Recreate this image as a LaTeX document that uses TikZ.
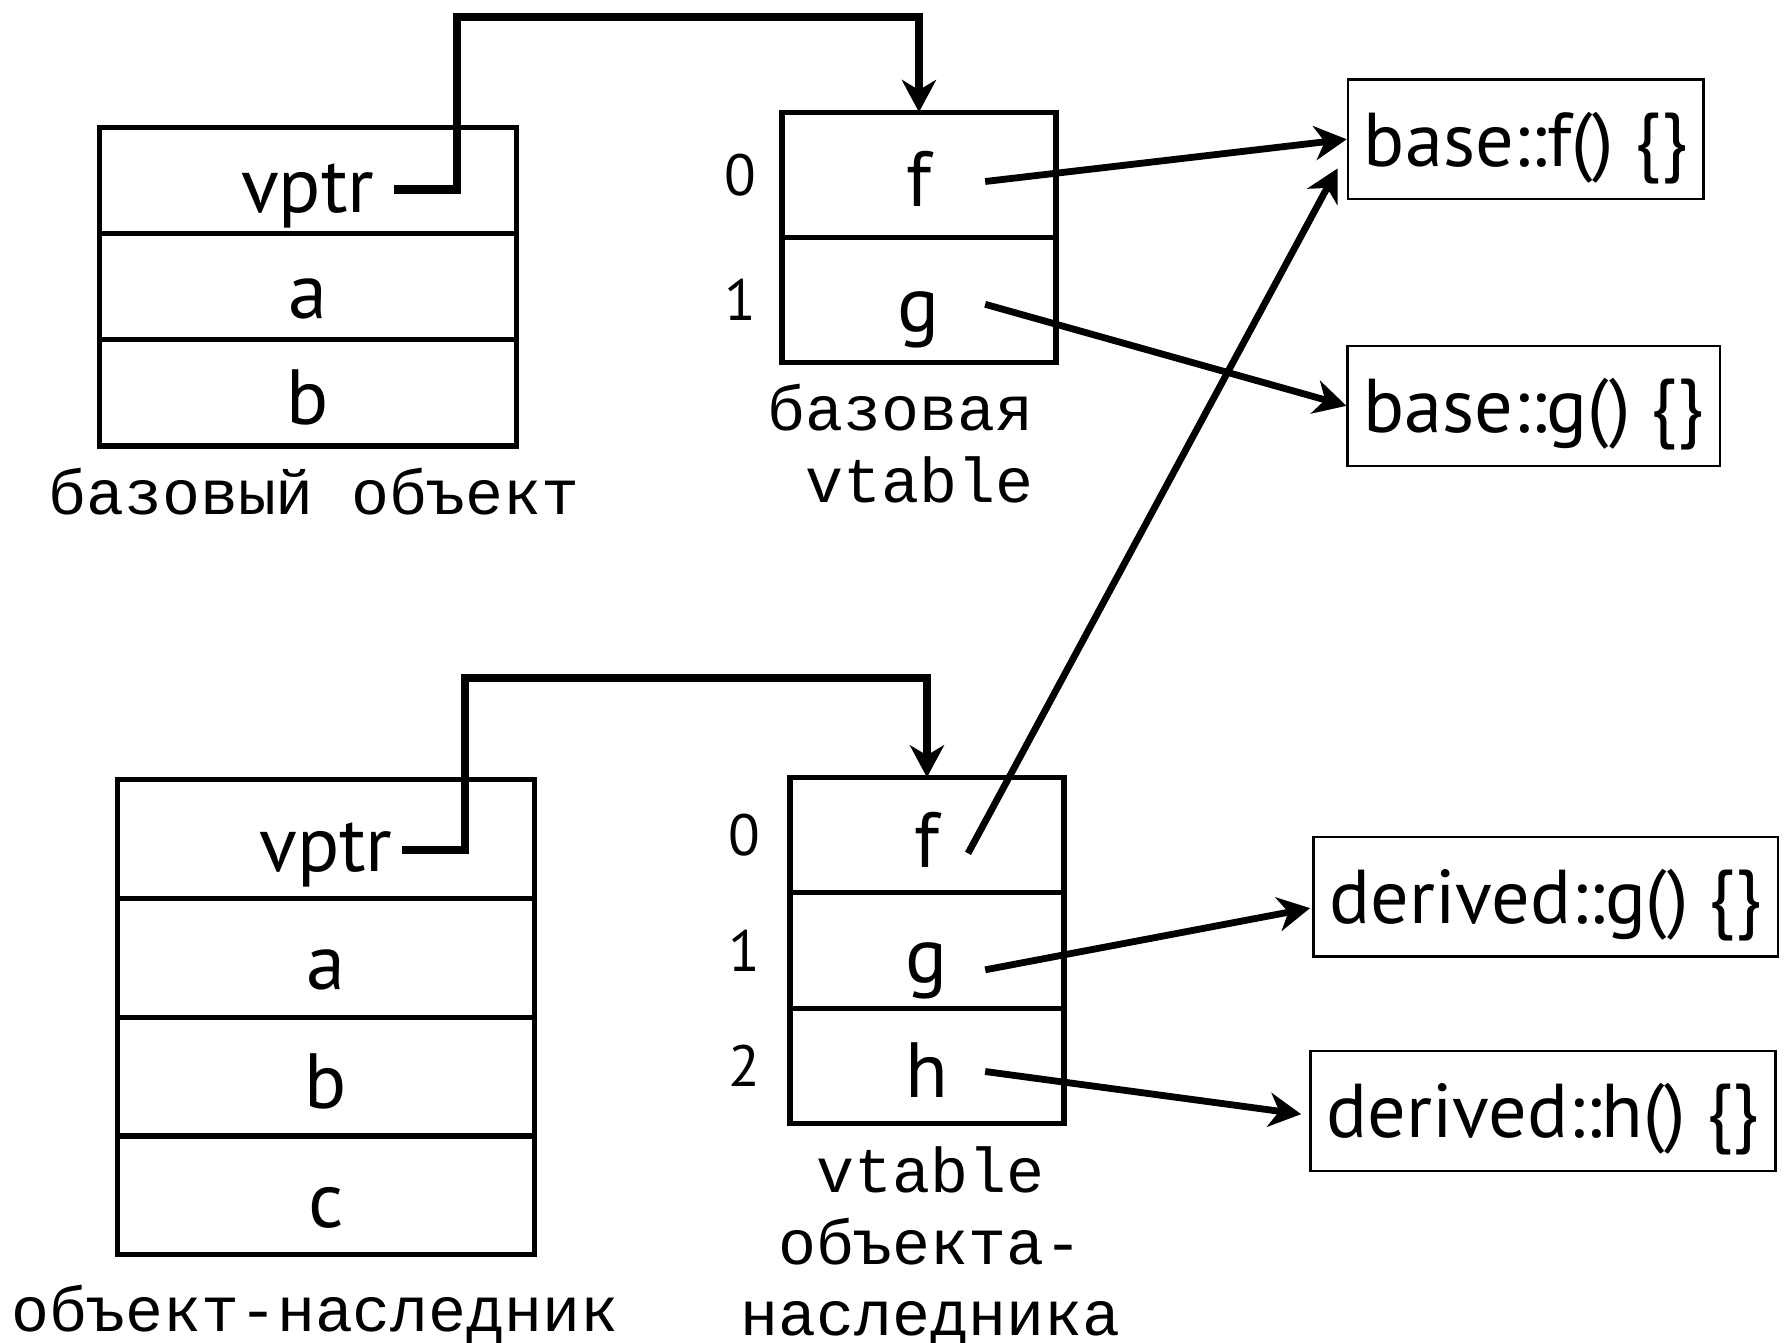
\documentclass[tikz,border=0pt]{standalone}
\usepackage{fontspec}
\setmainfont{PT Sans}
\newfontfamily\monofont{Liberation Mono}
\usetikzlibrary{arrows.meta,positioning}

\begin{document}
\begin{tikzpicture}[x=0.01cm, y=-0.01cm,
    cell/.style={draw, line width=1.3pt, outer sep=0pt, inner sep=0pt,
      text height=16pt, text depth=0pt, font=\fontsize{19.5}{21}\selectfont},
    objcell/.style={cell, minimum width=3.65cm},
    tabcell/.style={cell, minimum width=2.4cm},
    func/.style={draw, line width=0.6pt, inner xsep=4pt, inner ysep=0pt,
      minimum height=1.05cm, text height=13.4pt, text depth=0pt,
      font=\fontsize{19}{21}\selectfont},
    idx/.style={inner sep=0pt, font=\fontsize{14.5}{16}\selectfont},
    caption/.style={inner sep=0pt, anchor=base,
      font=\monofont\fontsize{15.75}{17.8}\selectfont},
    vlink/.style={line width=2pt, -{Stealth[length=8pt, width=8.5pt, inset=2.5pt]}},
    flink/.style={line width=1.7pt, -{Stealth[length=8pt, width=8.5pt, inset=2.5pt]}}]
  \useasboundingbox (0,0) rectangle (1568,1176);

  % base object
  \node[objcell, minimum height=0.93cm] (bvptr) at (269.5,158) {vptr};
  \node[objcell, minimum height=0.93cm, below=0pt of bvptr] (ba) {a};
  \node[objcell, minimum height=0.93cm, below=0pt of ba] (bb) {b};
  \node[caption] (bcap) at (275,451) {базовый объект};

  % base vtable
  \node[tabcell, minimum height=1.095cm] (bvf) at (805,153) {f};
  \node[tabcell, minimum height=1.095cm, below=0pt of bvf] (bvg) {g};
  \node[idx, left=0.22cm of bvf] (bi0) {0};
  \node[idx, left=0.22cm of bvg] (bi1) {1};
  \node[caption, align=right] (bvcap) at (789,440) {базовая\\vtable};

  % functions
  \node[func] (bf) at (1336.5,122) {base::f() \{\}};
  \node[func] (bg) at (1343.5,355.5) {base::g() \{\}};
  \node[func] (dg) at (1354,785.5) {derived::g() \{\}};
  \node[func] (dh) at (1351.5,973) {derived::h() \{\}};

  % derived object
  \node[objcell, minimum height=1.04cm] (dvptr) at (285.5,735) {vptr};
  \node[objcell, minimum height=1.04cm, below=0pt of dvptr] (da) {a};
  \node[objcell, minimum height=1.04cm, below=0pt of da] (db) {b};
  \node[objcell, minimum height=1.04cm, below=0pt of db] (dc) {c};
  \node[caption] (dcap) at (276,1166) {объект-наследник};

  % derived vtable
  \node[tabcell, minimum height=1.01cm] (dvf) at (812,731.5) {f};
  \node[tabcell, minimum height=1.01cm, below=0pt of dvf] (dvg) {g};
  \node[tabcell, minimum height=1.01cm, below=0pt of dvg] (dvh) {h};
  \node[idx, left=0.25cm of dvf] (di0) {0};
  \node[idx, left=0.25cm of dvg] (di1) {1};
  \node[idx, left=0.25cm of dvh] (di2) {2};
  \node[caption, align=center] (dvcap) at (815,1170) {vtable\\объекта-\\наследника};

  % vptr links
  \coordinate (bptr) at (345,166);
  \coordinate (dptr) at (352,745);
  \draw[vlink] (bptr) -- ++(55,0) -- ++(0,-151) -| (bvf.north);
  \draw[vlink] (dptr) -- ++(55,0) -- ++(0,-151) -| (dvf.north);

  % slots to functions
  \draw[flink] ([shift={(58,6)}]bvf.center) -- (bf.west);
  \draw[flink] ([shift={(58,4)}]bvg.center) -- (bg.west);
  \draw[flink] ([shift={(36,16)}]dvf.center) -- ([shift={(-8,-28)}]bf.south west);
  \draw[flink] ([shift={(51,17)}]dvg.center) -- ([shift={(-2,10)}]dg.west);
  \draw[flink] ([shift={(51,5)}]dvh.center) -- ([shift={(-7,3)}]dh.west);
\end{tikzpicture}
\end{document}
